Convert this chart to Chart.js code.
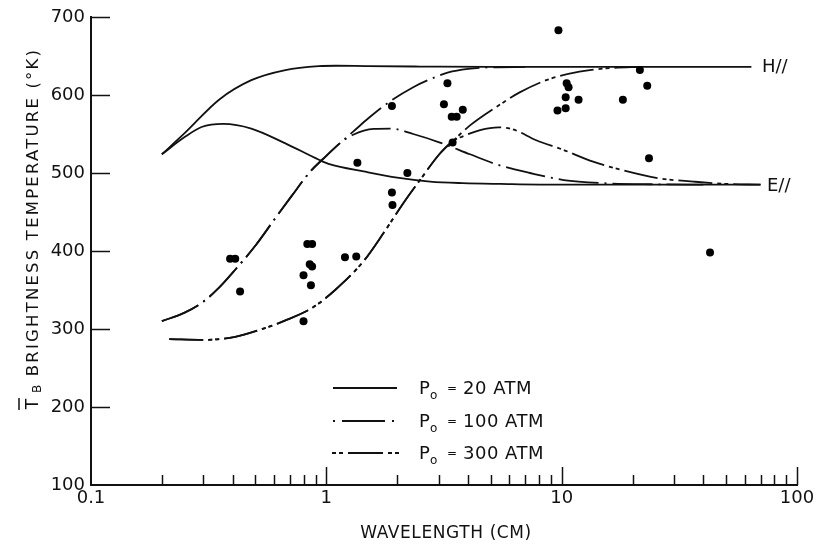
<!DOCTYPE html>
<html><head><meta charset="utf-8">
<script src="https://cdn.jsdelivr.net/npm/chart.js@4"></script>
<style>html,body{margin:0;padding:0;background:#fff}</style>
</head><body>
<canvas id="c" width="820" height="550"></canvas>
<script>
// ---- tick labels ----
const xTickLabels = ['0.1', '1', '10', '100'];
const yTickValues = [100, 200, 300, 400, 500, 600, 700];

// ---- P0 = 20 atm, H-parallel ----
const h20X = [0.2, 0.25, 0.35, 0.48, 0.67, 0.93, 1.1, 1.5, 2.5, 5, 10, 20, 40, 64];
const h20Y = [524, 551, 594, 619, 632, 637, 637.5, 637, 636.5, 636, 636, 636, 636, 636];
// ---- P0 = 20 atm, E-parallel ----
const e20X = [0.2, 0.25, 0.295, 0.365, 0.48, 0.67, 0.93, 1.04, 1.44, 2, 2.76, 3.8, 5.5, 10, 20, 40, 70];
const e20Y = [524, 546, 559, 563, 557, 538, 517, 511, 502, 494, 489, 487, 486, 485, 485, 485, 485];
// ---- P0 = 100 atm, H-parallel ----
const h100X = [0.2, 0.25, 0.3, 0.35, 0.41, 0.5, 0.6, 0.71, 0.85, 1.0, 1.14, 1.3, 1.5, 1.87, 2.34, 2.8, 3.3, 4, 5, 7];
const h100Y = [310, 321, 335, 353, 376, 407, 440, 470, 501, 522, 538, 553, 569.5, 592, 610, 621, 629, 633.5, 635.5, 636];
// ---- P0 = 100 atm, E-parallel ----
const e100X = [0.2, 0.25, 0.3, 0.35, 0.41, 0.5, 0.6, 0.71, 0.85, 1.0, 1.14, 1.3, 1.59, 1.87, 2.34, 3.04, 4.08, 5.3, 7.34, 10.2, 15, 25, 40];
const e100Y = [310, 321, 335, 353, 376, 407, 440, 470, 501, 522, 538, 549, 556.5, 557, 550, 539, 524, 511, 500, 491, 487, 485.5, 485];
// ---- P0 = 300 atm, H-parallel ----
const h300X = [0.215, 0.3, 0.41, 0.51, 0.67, 0.87, 1.09, 1.44, 1.75, 2.12, 2.5, 3.04, 3.45, 4.08, 5.3, 6.6, 8.6, 11.9, 16, 22];
const h300Y = [287, 286, 290, 298, 311, 327, 350, 387, 423, 461, 491, 525, 541, 561, 585, 603, 619, 630, 634.5, 636];
// ---- P0 = 300 atm, E-parallel ----
const e300X = [0.215, 0.3, 0.41, 0.51, 0.67, 0.87, 1.09, 1.44, 1.75, 2.12, 2.5, 3.04, 3.45, 3.8, 4.5, 5.4, 6.2, 7.8, 10.2, 13.6, 17.7, 26.2, 36.3, 50, 70];
const e300Y = [287, 286, 290, 298, 311, 327, 350, 387, 423, 461, 491, 525, 541, 547, 555, 558.5, 556, 542, 529.5, 514.5, 504.5, 493, 489, 486, 485];
// ---- observations ----
const obsX = [0.39, 0.41, 0.43, 0.83, 0.87, 0.85, 0.87, 0.80, 0.86, 0.80, 1.20, 1.34, 1.355, 1.90, 1.90, 1.91, 2.21, 3.27, 3.16, 3.8, 3.41, 3.58, 3.44, 9.69, 10.5, 10.7, 10.4, 9.6, 10.4, 11.8, 18.2, 21.5, 23.1, 23.5, 42.7];
const obsY = [390, 390, 348, 409, 409, 383, 380, 369, 356, 310, 392, 393, 513, 586, 475, 459, 500, 615, 588, 581, 572, 572, 539, 683, 615, 610, 597, 580, 583, 594, 594, 632, 612, 519, 398];

const pts = (xs, ys) => xs.map((x, i) => ({x, y: ys[i]}));
const INK = '#111';
const DASH100 = [40, 6, 2, 6];
const DASH300 = [34, 5, 4, 3, 4, 5];
const FONT = '"DejaVu Sans", sans-serif';

function curve(xs, ys, dash) {
  return {type: 'line', data: pts(xs, ys), borderColor: INK, borderWidth: 1.8, borderDash: dash,
    pointRadius: 0, fill: false, cubicInterpolationMode: 'monotone', order: 2};
}

const decorations = {
  id: 'decorations',
  afterDraw(chart) {
    const ctx = chart.ctx, xs = chart.scales.x, ys = chart.scales.y, a = chart.chartArea;
    ctx.save();
    ctx.strokeStyle = INK; ctx.fillStyle = INK; ctx.lineWidth = 1.5;
    // y ticks (inward)
    yTickValues.forEach(v => {
      if (v === 100) return;
      const p = Math.round(ys.getPixelForValue(v)) + 0.5;
      ctx.beginPath(); ctx.moveTo(a.left, p); ctx.lineTo(a.left + 19, p); ctx.stroke();
    });
    // x ticks (inward)
    xs.ticks.forEach(t => {
      const v = t.value;
      if (v <= 0.1 + 1e-9) return;
      const lg = Math.log10(v);
      const major = Math.abs(lg - Math.round(lg)) < 1e-6;
      const p = Math.round(xs.getPixelForValue(v)) + 0.5;
      ctx.beginPath(); ctx.moveTo(p, a.bottom); ctx.lineTo(p, a.bottom - (major ? 18 : 10)); ctx.stroke();
    });
    // curve end labels
    ctx.font = '18px ' + FONT; ctx.textBaseline = 'middle'; ctx.textAlign = 'left';
    ctx.fillText('H//', 762, ys.getPixelForValue(636));
    ctx.fillText('E//', 767, ys.getPixelForValue(485) + 2);
    // legend
    const rows = [
      {y: 388, dash: [], label: '20 ATM', x0: 333, x1: 397},
      {y: 421, dash: [2, 7, 43, 7], label: '100 ATM', x0: 333, x1: 397},
      {y: 453, dash: [4, 3, 4, 5, 35, 5], label: '300 ATM', x0: 332, x1: 400}
    ];
    rows.forEach(r => {
      ctx.save(); ctx.setLineDash(r.dash); ctx.lineWidth = 1.8;
      ctx.beginPath(); ctx.moveTo(r.x0, r.y); ctx.lineTo(r.x1, r.y); ctx.stroke(); ctx.restore();
      ctx.font = '18px ' + FONT; ctx.textAlign = 'left'; ctx.textBaseline = 'middle';
      ctx.fillText('P', 419, r.y + 1);
      ctx.font = '12px ' + FONT;
      ctx.fillText('o', 430, r.y + 8);
      ctx.fillText('=', 447, r.y + 1);
      ctx.font = '18px ' + FONT; ctx.letterSpacing = '0.5px';
      ctx.fillText(r.label, 463, r.y + 1);
      ctx.letterSpacing = '0px';
    });
    // x axis title
    ctx.font = '17px ' + FONT; ctx.textAlign = 'center'; ctx.textBaseline = 'middle';
    ctx.letterSpacing = '0.6px';
    ctx.fillText('WAVELENGTH (CM)', 446, 534);
    // y axis title (rotated)
    ctx.save();
    ctx.translate(34, 212); ctx.rotate(-Math.PI / 2);
    ctx.letterSpacing = '2.2px';
    ctx.font = '16.5px ' + FONT;
    ctx.fillText('BRIGHTNESS TEMPERATURE (°K)', 0, 0);
    ctx.restore();
    ctx.letterSpacing = '0px';
    ctx.save();
    ctx.translate(34, 404); ctx.rotate(-Math.PI / 2);
    ctx.font = '17px ' + FONT; ctx.textAlign = 'center'; ctx.textBaseline = 'middle';
    ctx.fillText('T', 0, 0);
    ctx.lineWidth = 1.5;
    ctx.beginPath(); ctx.moveTo(-6, -15); ctx.lineTo(6, -15); ctx.stroke();
    ctx.font = '12px ' + FONT;
    ctx.fillText('B', 15, 4);
    ctx.restore();
    ctx.restore();
  }
};

new Chart(document.getElementById('c'), {
  type: 'scatter',
  data: {
    datasets: [
      {type: 'scatter', data: pts(obsX, obsY), backgroundColor: '#000', borderWidth: 0, pointRadius: 4, order: 1},
      curve(h20X, h20Y, []),
      curve(e20X, e20Y, []),
      curve(h100X, h100Y, DASH100),
      curve(e100X, e100Y, DASH100),
      curve(h300X, h300Y, DASH300),
      curve(e300X, e300Y, DASH300)
    ]
  },
  options: {
    responsive: false, animation: false, devicePixelRatio: 1,
    layout: {padding: {left: 0, right: 23, top: 17, bottom: 0}},
    plugins: {legend: {display: false}, tooltip: {enabled: false}},
    scales: {
      x: {
        type: 'logarithmic', min: 0.1, max: 100,
        grid: {display: false, drawTicks: false},
        border: {display: true, color: INK, width: 2},
        afterBuildTicks(s) {
          const t = [];
          [0.1, 1, 10].forEach(d => { for (let k = 1; k <= 9; k++) t.push({value: +(d * k).toPrecision(3)}); });
          t.push({value: 100});
          s.ticks = t;
        },
        afterFit(s) { s.height = 65; },
        ticks: {
          autoSkip: false, maxRotation: 0, padding: 3, color: INK,
          font: {family: FONT, size: 18},
          callback(v) {
            const lg = Math.log10(v);
            if (Math.abs(lg - Math.round(lg)) > 1e-6) return '';
            return xTickLabels[Math.round(lg) + 1];
          }
        }
      },
      y: {
        type: 'linear', min: 100, max: 700,
        grid: {display: false, drawTicks: false},
        border: {display: true, color: INK, width: 2},
        afterBuildTicks(s) { s.ticks = yTickValues.map(v => ({value: v})); },
        afterFit(s) { s.width = 91; },
        ticks: {padding: 6, color: INK, font: {family: FONT, size: 18}}
      }
    }
  },
  plugins: [decorations]
});
</script>
</body></html>
